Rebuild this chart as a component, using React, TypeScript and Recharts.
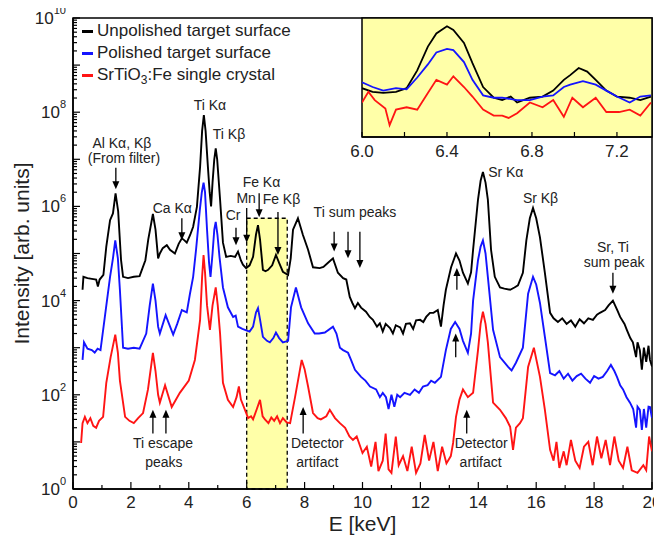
import React from 'react';
import { LineChart, Line, XAxis, YAxis, ReferenceArea, ReferenceLine, ReferenceDot, Legend, Label } from 'recharts';

const FONT = '"Liberation Sans", Arial, Helvetica, sans-serif';

const seriesNames = ['Unpolished target surface', 'Polished target surface', 'SrTiO3:Fe single crystal'];
const seriesColors = ['#000000', '#1414ff', '#ff1414'];

// [E keV, intensity]
const unpolished: [number, number][] = [
  [0.33, 1.7e4], [0.36, 3.2e4], [0.5, 3.0e4], [0.65, 2.9e4], [0.8, 2.8e4], [0.86, 2.0e4], [0.92, 2.8e4],
  [1.05, 3.5e4], [1.15, 1.4e5], [1.28, 5.1e5], [1.38, 7.1e5], [1.47, 1.9e6], [1.56, 7.9e5], [1.66, 7.2e4],
  [1.73, 3.2e4], [1.9, 3.0e4], [2.1, 3.2e4], [2.3, 3.3e4], [2.5, 7.2e4], [2.6, 2.0e5], [2.76, 6.9e5],
  [2.85, 3.2e5], [2.94, 7.9e4], [3.0, 1.0e5], [3.1, 1.3e5], [3.24, 1.5e5], [3.35, 1.2e5], [3.52, 1.0e5],
  [3.65, 1.6e5], [3.76, 2.1e5], [3.85, 1.9e5], [3.93, 1.7e5], [4.05, 2.5e5], [4.15, 3.7e5], [4.28, 9.8e5],
  [4.39, 6.9e6], [4.46, 4.0e7], [4.52, 8.7e7], [4.58, 4.0e7], [4.66, 6.9e6], [4.72, 2.0e6], [4.77, 1.0e6],
  [4.82, 3.2e6], [4.88, 1.0e7], [4.93, 1.7e7], [4.98, 1.0e7], [5.08, 1.4e6], [5.18, 1.7e5], [5.29, 8.5e4],
  [5.45, 8.9e4], [5.6, 8.5e4], [5.7, 1.1e5], [5.8, 7.1e4], [5.87, 5.8e4], [5.98, 4.9e4], [6.1, 5.6e4],
  [6.22, 8.5e4], [6.32, 2.5e5], [6.39, 4.0e5], [6.46, 2.0e5], [6.56, 4.5e4], [6.65, 4.2e4], [6.74, 4.5e4],
  [6.88, 5.6e4], [7.01, 9.3e4], [7.12, 6.3e4], [7.25, 4.1e4], [7.43, 3.5e4], [7.52, 7.9e4], [7.6, 3.2e5],
  [7.77, 5.6e5], [7.94, 2.5e5], [8.12, 1.2e5], [8.29, 5.1e4], [8.52, 4.9e4], [8.65, 5.2e4], [8.8, 6.3e4],
  [8.98, 7.9e4], [9.15, 3.9e4], [9.33, 3.0e4], [9.44, 2.8e4], [9.56, 1.2e4], [9.65, 8.9e3], [9.74, 6.9e3],
  [9.84, 8.9e3], [9.95, 7.1e3], [10.12, 5.8e3], [10.25, 4.5e3], [10.36, 3.9e3], [10.5, 2.8e3], [10.6, 3.3e3],
  [10.7, 2.2e3], [10.8, 3.2e3], [10.95, 2.6e3], [11.05, 2.0e3], [11.15, 3.0e3], [11.3, 2.7e3], [11.4, 2.0e3],
  [11.5, 3.2e3], [11.64, 3.3e3], [11.75, 2.5e3], [11.85, 3.8e3], [11.99, 3.9e3], [12.1, 3.5e3], [12.2, 4.5e3],
  [12.33, 5.5e3], [12.45, 5.5e3], [12.6, 6.3e3], [12.71, 2.8e3], [12.8, 7.9e3], [12.88, 1.7e4], [13.06, 5.1e4],
  [13.23, 1.0e5], [13.35, 7.1e4], [13.47, 3.9e4], [13.64, 2.3e4], [13.75, 4.0e4], [13.82, 1.2e5], [13.99, 1.4e6],
  [14.08, 3.5e6], [14.16, 5.4e6], [14.25, 3.2e6], [14.33, 1.4e6], [14.44, 1.2e5], [14.57, 3.2e4], [14.75, 1.9e4],
  [14.9, 1.8e4], [15.1, 1.7e4], [15.25, 1.9e4], [15.37, 2.1e4], [15.54, 3.9e4], [15.66, 1.9e5], [15.78, 5.6e5],
  [15.89, 9.3e5], [16.0, 5.6e5], [16.13, 2.2e5], [16.3, 3.9e4], [16.4, 1.3e4], [16.48, 5.5e3], [16.6, 4.2e3],
  [16.75, 3.5e3], [16.9, 4.2e3], [17.05, 3.2e3], [17.2, 3.8e3], [17.35, 2.8e3], [17.5, 4.0e3], [17.65, 3.3e3],
  [17.8, 4.2e3], [17.96, 3.9e3], [18.1, 5.0e3], [18.2, 5.5e3], [18.38, 6.3e3], [18.5, 7.9e3], [18.65, 1.0e4],
  [18.8, 6.3e3], [18.9, 4.5e3], [19.05, 3.2e3], [19.13, 2.4e3], [19.25, 1.6e3], [19.34, 1.3e3], [19.45, 630],
  [19.5, 1.3e3], [19.58, 890], [19.65, 340], [19.72, 1.0e3], [19.8, 500], [19.88, 1.1e3], [19.93, 550], [20.0, 400],
];

const polished: [number, number][] = [
  [0.33, 550], [0.38, 1.3e3], [0.5, 950], [0.65, 890], [0.75, 790], [0.85, 950], [0.95, 890], [1.1, 4.5e3],
  [1.28, 3.2e4], [1.38, 7.9e4], [1.46, 1.9e5], [1.55, 7.9e4], [1.62, 1.7e4], [1.73, 1.0e3], [1.9, 950],
  [2.1, 1.0e3], [2.3, 950], [2.53, 2.0e3], [2.65, 7.9e3], [2.76, 2.3e4], [2.85, 1.0e4], [2.94, 2.8e3],
  [3.0, 2.0e3], [3.2, 4.9e3], [3.46, 1.9e3], [3.6, 3.2e3], [3.76, 6.3e3], [3.93, 5.6e3], [4.04, 1.4e4],
  [4.15, 3.2e4], [4.25, 1.2e5], [4.38, 8.3e5], [4.45, 2.0e6], [4.51, 3.2e6], [4.56, 2.0e6], [4.63, 3.2e5],
  [4.7, 6.3e4], [4.75, 3.2e4], [4.82, 1.0e5], [4.88, 3.2e5], [4.93, 4.7e5], [4.99, 2.5e5], [5.06, 8.5e4],
  [5.18, 1.9e4], [5.35, 7.2e3], [5.53, 4.5e3], [5.62, 4.8e3], [5.7, 2.8e3], [5.85, 2.5e3], [5.94, 2.4e3],
  [6.1, 2.2e3], [6.22, 2.8e3], [6.32, 5.6e3], [6.39, 6.9e3], [6.46, 4.0e3], [6.56, 1.7e3], [6.7, 1.4e3],
  [6.8, 1.3e3], [6.92, 1.6e3], [7.01, 2.1e3], [7.12, 1.6e3], [7.25, 1.3e3], [7.43, 1.4e3], [7.53, 7.2e3],
  [7.7, 1.9e4], [7.88, 7.2e3], [8.12, 3.3e3], [8.35, 2.0e3], [8.5, 2.0e3], [8.7, 2.1e3], [8.98, 2.8e3],
  [9.1, 2.0e3], [9.22, 1.0e3], [9.33, 890], [9.5, 780], [9.6, 560], [9.74, 340], [9.95, 240], [10.1, 200],
  [10.26, 150], [10.47, 130], [10.6, 89], [10.7, 110], [10.81, 89], [10.9, 50], [11.0, 100], [11.1, 56],
  [11.2, 100], [11.3, 89], [11.45, 110], [11.64, 100], [11.8, 130], [11.95, 110], [12.09, 150], [12.25, 160],
  [12.37, 200], [12.5, 180], [12.71, 240], [12.88, 890], [13.05, 2.5e3], [13.2, 3.5e3], [13.35, 2.5e3],
  [13.47, 1.4e3], [13.64, 780], [13.75, 2.0e3], [13.82, 1.0e4], [13.99, 7.2e4], [14.08, 1.4e5], [14.16, 1.9e5],
  [14.25, 1.0e5], [14.33, 3.2e4], [14.51, 2.4e3], [14.75, 630], [15.03, 390], [15.15, 330], [15.3, 480],
  [15.54, 1.0e3], [15.72, 1.4e4], [15.89, 3.2e4], [16.0, 2.2e4], [16.13, 8.9e3], [16.3, 1.7e3], [16.48, 290],
  [16.65, 260], [16.8, 320], [16.95, 220], [17.1, 280], [17.25, 200], [17.4, 250], [17.55, 280], [17.7, 220],
  [17.86, 180], [18.0, 250], [18.15, 220], [18.3, 240], [18.45, 320], [18.58, 430], [18.7, 320], [18.79, 240],
  [18.9, 160], [19.0, 130], [19.12, 89], [19.24, 68], [19.35, 50], [19.45, 20], [19.5, 56], [19.58, 48],
  [19.65, 18], [19.72, 50], [19.8, 20], [19.88, 56], [19.93, 55], [20.0, 32],
];

const singleCrystal: [number, number][] = [
  [0.28, 9.5], [0.33, 25], [0.41, 34], [0.5, 25], [0.6, 32], [0.7, 22], [0.8, 20], [0.9, 28], [1.04, 34],
  [1.15, 180], [1.3, 630], [1.46, 1.9e3], [1.55, 790], [1.62, 200], [1.8, 34], [1.95, 28], [2.1, 25],
  [2.25, 32], [2.42, 41], [2.59, 130], [2.76, 780], [2.85, 320], [2.94, 100], [3.0, 68], [3.18, 160],
  [3.41, 55], [3.69, 110], [4.0, 200], [4.21, 550], [4.39, 3.9e3], [4.46, 3.2e4], [4.51, 9.3e4], [4.56, 4.0e4],
  [4.63, 7.9e3], [4.73, 2.4e3], [4.82, 7.9e3], [4.93, 1.9e4], [5.0, 7.9e3], [5.08, 2.0e3], [5.18, 180],
  [5.35, 78], [5.53, 55], [5.65, 89], [5.73, 150], [5.8, 79], [5.94, 48], [6.05, 32], [6.15, 35], [6.22, 30],
  [6.35, 50], [6.46, 78], [6.55, 35], [6.63, 30], [6.75, 25], [6.85, 33], [6.95, 28], [7.05, 35], [7.15, 25],
  [7.25, 32], [7.38, 26], [7.5, 25], [7.67, 89], [7.9, 550], [8.0, 350], [8.12, 150], [8.29, 41], [8.45, 32],
  [8.56, 30], [8.75, 35], [8.87, 48], [9.05, 32], [9.22, 25], [9.4, 20], [9.55, 13], [9.67, 11], [9.8, 13],
  [10.0, 5.8], [10.15, 7.9], [10.3, 3.0], [10.45, 10], [10.55, 2.4], [10.7, 4.0], [10.8, 15], [10.9, 2.6],
  [11.0, 2.2], [11.15, 13], [11.25, 3.2], [11.4, 5.0], [11.55, 2.4], [11.7, 7.9], [11.85, 2.2], [12.0, 3.5],
  [12.15, 14], [12.3, 4.0], [12.45, 10], [12.6, 2.4], [12.75, 7.9], [12.9, 3.5], [13.05, 5.0], [13.13, 9.5],
  [13.23, 34], [13.35, 79], [13.47, 130], [13.64, 89], [13.82, 110], [13.99, 890], [14.08, 3.2e3], [14.16, 5.8e3],
  [14.25, 3.2e3], [14.33, 1.3e3], [14.51, 68], [14.75, 48], [14.95, 32], [15.1, 21], [15.2, 6.8], [15.3, 20],
  [15.44, 25], [15.54, 32], [15.72, 390], [15.92, 1.0e3], [16.13, 240], [16.3, 48], [16.48, 6.8], [16.6, 4.0],
  [16.7, 10], [16.8, 2.8], [16.95, 6.3], [17.05, 3.2], [17.2, 11], [17.35, 4.0], [17.5, 2.8], [17.65, 7.9],
  [17.8, 10], [17.95, 3.2], [18.1, 13], [18.25, 4.5], [18.4, 11], [18.55, 3.2], [18.7, 13], [18.85, 4.0],
  [19.0, 2.8], [19.15, 7.9], [19.3, 2.5], [19.5, 2.2], [19.7, 3.2], [19.8, 2.5], [19.9, 13], [20.0, 6.3],
];

// inset (Fe K region), normalized intensity
const insetUnpolished: [number, number][] = [
  [6.0, 0.41], [6.05, 0.38], [6.1, 0.37], [6.16, 0.38], [6.21, 0.41], [6.26, 0.56], [6.31, 0.76], [6.35, 0.87],
  [6.4, 0.93], [6.43, 0.9], [6.48, 0.79], [6.52, 0.62], [6.57, 0.42], [6.62, 0.33], [6.66, 0.31], [6.7, 0.34],
  [6.73, 0.29], [6.79, 0.33], [6.85, 0.34], [6.9, 0.39], [6.95, 0.48], [6.98, 0.52], [7.02, 0.58], [7.06, 0.55],
  [7.1, 0.48], [7.15, 0.39], [7.2, 0.34], [7.26, 0.33], [7.31, 0.31], [7.36, 0.34],
];
const insetPolished: [number, number][] = [
  [6.0, 0.46], [6.05, 0.42], [6.1, 0.39], [6.16, 0.41], [6.21, 0.4], [6.26, 0.5], [6.31, 0.61], [6.35, 0.71],
  [6.4, 0.74], [6.43, 0.73], [6.48, 0.63], [6.52, 0.48], [6.57, 0.35], [6.62, 0.33], [6.66, 0.33], [6.73, 0.31],
  [6.79, 0.31], [6.85, 0.34], [6.9, 0.35], [6.95, 0.42], [6.98, 0.44], [7.04, 0.47], [7.1, 0.44], [7.15, 0.39],
  [7.2, 0.34], [7.26, 0.29], [7.31, 0.34], [7.36, 0.35],
];
const insetSingleCrystal: [number, number][] = [
  [6.0, 0.29], [6.03, 0.38], [6.06, 0.31], [6.11, 0.24], [6.13, 0.1], [6.16, 0.23], [6.21, 0.25], [6.26, 0.23],
  [6.31, 0.37], [6.35, 0.48], [6.4, 0.44], [6.43, 0.51], [6.48, 0.42], [6.52, 0.34], [6.57, 0.23], [6.62, 0.18],
  [6.66, 0.18], [6.69, 0.16], [6.73, 0.2], [6.79, 0.29], [6.85, 0.25], [6.9, 0.31], [6.95, 0.17], [6.99, 0.33],
  [7.04, 0.25], [7.1, 0.33], [7.15, 0.21], [7.21, 0.21], [7.26, 0.23], [7.31, 0.18], [7.36, 0.29],
];

const xTicks = [0, 1, 2, 3, 4, 5, 6, 7, 8, 9, 10, 11, 12, 13, 14, 15, 16, 17, 18, 19, 20];
const yDecades = [1, 10, 100, 1e3, 1e4, 1e5, 1e6, 1e7, 1e8, 1e9, 1e10];
const minorMultipliers = [1, 2, 3, 4, 5, 6, 7, 8, 9];
const insetXTicks = [6.0, 6.2, 6.4, 6.6, 6.8, 7.0, 7.2];
const insetYTicks = [0.16, 0.35, 0.54, 0.73, 0.92];
const highlight = { e1: 6.0, e2: 7.4, top: 5.6e5 };

// annotation texts: [text, E, intensity(baseline), anchor]
const peakLabels: [string, number, number, string][] = [
  ['Al K\u03B1, K\u03B2', 1.69, 1.7e7, 'middle'],
  ['(From filter)', 1.76, 8.3e6, 'middle'],
  ['Ti K\u03B1', 4.73, 1.1e8, 'middle'],
  ['Ti K\u03B2', 5.39, 2.7e7, 'middle'],
  ['Ca K\u03B1', 3.43, 7.2e5, 'middle'],
  ['Cr', 5.53, 5.1e5, 'middle'],
  ['Mn', 5.98, 1.2e6, 'middle'],
  ['Fe K\u03B1', 6.51, 2.6e6, 'middle'],
  ['Fe K\u03B2', 7.2, 1.1e6, 'middle'],
  ['Ti sum peaks', 9.74, 5.9e5, 'middle'],
  ['Sr K\u03B1', 14.34, 4.2e6, 'start'],
  ['Sr K\u03B2', 16.15, 1.2e6, 'middle'],
  ['Sr, Ti', 18.65, 1.1e5, 'middle'],
  ['sum peak', 18.69, 5.1e4, 'middle'],
  ['Ti escape', 3.11, 7.4, 'middle'],
  ['peaks', 3.14, 2.9, 'middle'],
  ['Detector', 8.44, 7.4, 'middle'],
  ['artifact', 8.44, 2.9, 'middle'],
  ['Detector', 14.1, 7.4, 'middle'],
  ['artifact', 14.08, 2.9, 'middle'],
];

// arrows: [E, tail intensity, tip intensity]
const arrows: [number, number, number][] = [
  [1.48, 6.6e6, 2.3e6], [3.76, 5.6e5, 1.9e5], [5.63, 3.5e5, 1.5e5], [6.0, 9.3e5, 1.7e5],
  [6.43, 1.9e6, 5.9e5], [7.08, 7.6e5, 9.3e4], [9.02, 2.9e5, 1.1e5], [9.5, 2.9e5, 7.9e4],
  [9.91, 2.9e5, 4.9e4], [18.65, 3.9e4, 1.4e4],
  [2.76, 15, 48], [3.21, 15, 48], [7.95, 15, 55], [13.6, 15, 48], [13.26, 1.7e4, 4.9e4], [13.22, 630, 2.0e3],
];

const toRows = (pts: [number, number][]) => pts.map(([e, i]) => ({ e, i }));

const YTick = (p: any) => {
  const { x, y, payload } = p;
  const v = payload.value;
  const exp = Math.round(Math.log10(v));
  const major = Math.abs(v - Math.pow(10, exp)) < 1e-6 * v;
  return (
    <g>
      <line x1={x} y1={y} x2={x + (major ? 7 : 4)} y2={y} stroke="#000" strokeWidth={1.2} />
      {major && exp % 2 === 0 && (
        <text x={x - 7} y={y + 6} textAnchor="end" fontSize={17} fontFamily={FONT} fill="#222">
          10<tspan dy={-10} fontSize={11}>{exp}</tspan>
        </text>
      )}
    </g>
  );
};

const XTick = (p: any) => {
  const { x, y, payload } = p;
  const v = payload.value;
  const major = v % 2 === 0;
  return (
    <g>
      <line x1={x} y1={y} x2={x} y2={y - (major ? 7 : 4)} stroke="#000" strokeWidth={1.2} />
      {major && (
        <text x={x} y={y + 19} textAnchor="middle" fontSize={17} fontFamily={FONT} fill="#222">{v}</text>
      )}
    </g>
  );
};

const InsetXTick = (p: any) => {
  const { x, y, payload } = p;
  const v = payload.value;
  const labelled = Math.round((v - 6) * 10) % 4 === 0;
  return (
    <g>
      <line x1={x} y1={y} x2={x} y2={y - 5} stroke="#000" strokeWidth={1.2} />
      {labelled && (
        <text x={x} y={y + 20} textAnchor="middle" fontSize={17} fontFamily={FONT} fill="#222">{v.toFixed(1)}</text>
      )}
    </g>
  );
};

const InsetYTick = (p: any) => {
  const { x, y } = p;
  return <line x1={x} y1={y} x2={x + 5} y2={y} stroke="#000" strokeWidth={1.2} />;
};

const ArrowShape = (p: any) => {
  const { x1, y1, x2, y2 } = p;
  const dir = y2 > y1 ? 1 : -1;
  return (
    <g>
      <line x1={x1} y1={y1} x2={x2} y2={y2 - dir * 6} stroke="#000" strokeWidth={1.3} />
      <path d={`M${x2 - 3.5},${y2 - dir * 8} L${x2 + 3.5},${y2 - dir * 8} L${x2},${y2} Z`} fill="#000" />
    </g>
  );
};

const withSub = (n: string) => {
  const idx = n.indexOf('O3');
  if (idx < 0) return n;
  return (
    <>
      {n.slice(0, idx + 1)}
      <span style={{ fontSize: 12, position: 'relative', top: 4 }}>3</span>
      {n.slice(idx + 2)}
    </>
  );
};

const renderLegend = () => (
  <div style={{ fontFamily: FONT, fontSize: 17, color: '#222', lineHeight: '22px' }}>
    {seriesNames.map((n, k) => (
      <div key={n} style={{ display: 'flex', alignItems: 'center', whiteSpace: 'nowrap', height: 22 }}>
        <span style={{ display: 'inline-block', width: 11, height: 3, background: seriesColors[k], marginRight: 4 }} />
        <span>{withSub(n)}</span>
      </div>
    ))}
  </div>
);

export default function App() {
  const yTicks = yDecades.flatMap((d) => (d === 1e10 ? [d] : minorMultipliers.map((m) => m * d)));
  const mainSeries = [unpolished, polished, singleCrystal];
  const insetSeries = [insetUnpolished, insetPolished, insetSingleCrystal];
  return (
    <div style={{ position: 'relative', width: 654, height: 539, marginTop: -8, fontFamily: FONT }}>
      <LineChart width={654} height={539} margin={{ top: 18, right: 10, left: 0, bottom: 0 }}>
        <ReferenceArea
          x1={highlight.e1} x2={highlight.e2} y1={1} y2={highlight.top}
          fill="#ffffa8" fillOpacity={1} stroke="#000" strokeWidth={1.3} strokeDasharray="4 3"
        />
        <XAxis
          dataKey="e" type="number" domain={[0, 20]} ticks={xTicks} interval={0} allowDataOverflow
          tick={(p: any) => <XTick {...p} />} tickLine={false} tickSize={0} tickMargin={0}
          axisLine={{ stroke: '#000', strokeWidth: 1.5 }} height={50}
        >
          <Label
            content={(lp: any) => {
              const vb = lp.viewBox || { x: 65, y: 489, width: 579, height: 50 };
              return (
                <text x={vb.x + vb.width / 2} y={vb.y + 42} textAnchor="middle" fontSize={21} fontFamily={FONT} fill="#222">
                  E [keV]
                </text>
              );
            }}
          />
        </XAxis>
        <YAxis
          type="number" scale="log" domain={[1, 1e10]} ticks={yTicks} interval={0} allowDataOverflow
          tick={(p: any) => <YTick {...p} />} tickLine={false} tickSize={0} tickMargin={0}
          axisLine={{ stroke: '#000', strokeWidth: 1.5 }} width={65}
        >
          <Label
            content={(lp: any) => {
              const vb = lp.viewBox || { x: 0, y: 18, width: 65, height: 471 };
              const cx = vb.x + 13;
              const cy = vb.y + vb.height / 2;
              return (
                <text transform={`translate(${cx},${cy}) rotate(-90)`} textAnchor="middle" dominantBaseline="central" fontSize={21} fontFamily={FONT} fill="#222">
                  Intensity [arb. units]
                </text>
              );
            }}
          />
        </YAxis>
        <ReferenceArea x1={0} x2={20} y1={1} y2={1e10} fill="none" stroke="#000" strokeWidth={1.5} />
        {mainSeries.map((s, k) => (
          <Line
            key={seriesNames[k]} name={seriesNames[k]} data={toRows(s)} dataKey="i" type="linear"
            stroke={seriesColors[k]} strokeWidth={1.9} dot={false} activeDot={false} isAnimationActive={false}
          />
        ))}
        {arrows.map(([e, from, to], k) => (
          <ReferenceLine key={'a' + k} segment={[{ x: e, y: from }, { x: e, y: to }]} shape={(p: any) => <ArrowShape {...p} />} />
        ))}
        {peakLabels.map(([t, e, i, anchor], k) => (
          <ReferenceDot
            key={'t' + k} x={e} y={i} r={0}
            shape={(p: any) => (
              <text x={p.cx} y={p.cy} textAnchor={anchor as any} fontSize={14} fontFamily={FONT} fill="#222">{t}</text>
            )}
          />
        ))}
        <Legend
          layout="vertical" align="center" verticalAlign="middle"
          wrapperStyle={{ top: 20, left: 74, width: 'auto', height: 'auto' }}
          content={renderLegend}
        />
      </LineChart>
      <div style={{ position: 'absolute', left: 342, top: 16 }}>
        <LineChart width={314} height={146} margin={{ top: 2, right: 12, left: 12, bottom: 0 }}>
          <ReferenceArea x1={6} x2={7.365} y1={0} y2={1} fill="#ffffa8" fillOpacity={1} stroke="none" />
          <XAxis
            dataKey="e" type="number" domain={[6, 7.365]} ticks={insetXTicks} interval={0} allowDataOverflow
            tick={(p: any) => <InsetXTick {...p} />} tickLine={false} tickSize={0} tickMargin={0}
            axisLine={{ stroke: '#000', strokeWidth: 1.5 }} height={25}
          />
          <YAxis
            type="number" domain={[0, 1]} ticks={insetYTicks} interval={0} allowDataOverflow
            tick={(p: any) => <InsetYTick {...p} />} tickLine={false} tickSize={0} tickMargin={0}
            axisLine={{ stroke: '#000', strokeWidth: 1.5 }} width={0}
          />
          <ReferenceArea x1={6} x2={7.365} y1={0} y2={1} fill="none" stroke="#000" strokeWidth={1.5} />
          {insetSeries.map((s, k) => (
            <Line
              key={'in' + k} name={seriesNames[k]} data={s.map(([e, v]) => ({ e, v }))} dataKey="v" type="linear"
              stroke={seriesColors[k]} strokeWidth={1.8} dot={false} activeDot={false} isAnimationActive={false}
            />
          ))}
        </LineChart>
      </div>
    </div>
  );
}
